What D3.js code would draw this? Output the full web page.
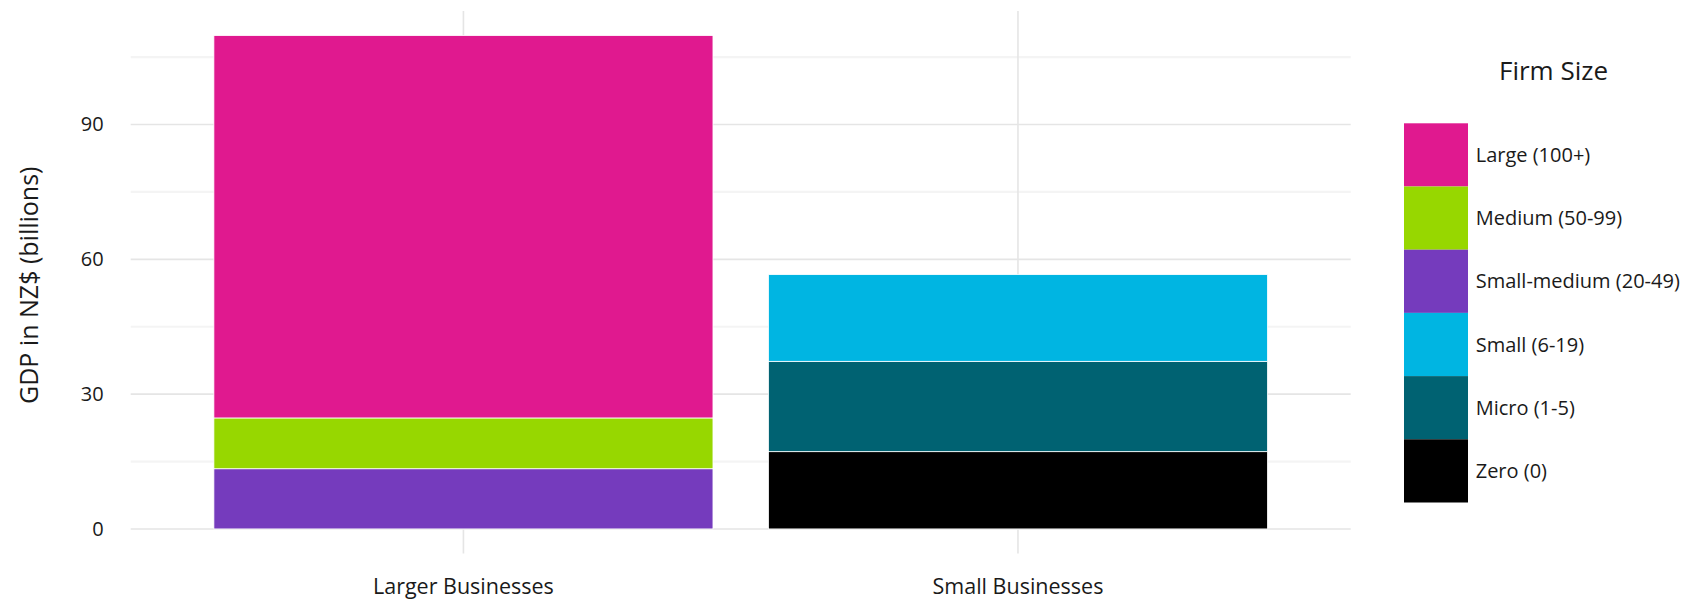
<!DOCTYPE html>
<html>
<head>
<meta charset="utf-8">
<script src="https://cdn.jsdelivr.net/npm/d3@7"></script>
<style>
  html, body { margin: 0; padding: 0; background: #ffffff; }
  svg text { font-family: "Open Sans", "Noto Sans", sans-serif; fill: #1a1a1a; }
</style>
</head>
<body>
<svg id="chart" width="1708" height="600"></svg>
<script>
// ---- data ----
const categories = ["Larger Businesses", "Small Businesses"];
const firmSizes = ["Large (100+)", "Medium (50-99)", "Small-medium (20-49)", "Small (6-19)", "Micro (1-5)", "Zero (0)"];
const firmColors = ["#e0198f", "#97d700", "#753bbd", "#00b5e2", "#006272", "#000000"];
// values per firm size, one per category (NZ$ billions)
const largeValues       = [85.1, 0];
const mediumValues      = [11.3, 0];
const smallMediumValues = [13.4, 0];
const smallValues       = [0, 19.3];
const microValues       = [0, 20.1];
const zeroValues        = [0, 17.2];
const yTicks = [0, 30, 60, 90];
const yMinorTicks = [15, 45, 75, 105];
const yAxisTitle = "GDP in NZ$ (billions)";
const legendTitle = "Firm Size";

// ---- build table ----
const seriesArrays = [largeValues, mediumValues, smallMediumValues, smallValues, microValues, zeroValues];
const rows = categories.map((c, i) => {
  const r = { category: c };
  firmSizes.forEach((f, j) => { r[f] = seriesArrays[j][i]; });
  return r;
});
const stackKeys = firmSizes.slice().reverse(); // bottom first
const stacked = d3.stack().keys(stackKeys)(rows);

const svg = d3.select("#chart");
const panel = { left: 130.7, right: 1350.7, top: 10.9, bottom: 553.6 };

const maxTotal = d3.max(rows, r => d3.sum(firmSizes, f => r[f]));
const y = d3.scaleLinear()
  .domain([-0.05 * maxTotal, 1.05 * maxTotal])
  .range([panel.bottom, panel.top]);
const x = d3.scaleBand()
  .domain(categories)
  .range([panel.left, panel.right])
  .paddingInner(0.1)
  .paddingOuter(0.15);
const color = d3.scaleOrdinal().domain(firmSizes).range(firmColors);

// ---- grid ----
const grid = svg.append("g");
grid.selectAll("line.minor").data(yMinorTicks).join("line")
  .attr("x1", panel.left).attr("x2", panel.right)
  .attr("y1", d => y(d)).attr("y2", d => y(d))
  .attr("stroke", "#f4f4f4").attr("stroke-width", 2.2);
grid.selectAll("line.major").data(yTicks).join("line")
  .attr("x1", panel.left).attr("x2", panel.right)
  .attr("y1", d => y(d)).attr("y2", d => y(d))
  .attr("stroke", "#e5e5e5").attr("stroke-width", 1.6);
grid.selectAll("line.vmajor").data(categories).join("line")
  .attr("x1", d => x(d) + x.bandwidth() / 2).attr("x2", d => x(d) + x.bandwidth() / 2)
  .attr("y1", panel.top).attr("y2", panel.bottom)
  .attr("stroke", "#e5e5e5").attr("stroke-width", 1.6);

// ---- bars ----
const bars = svg.append("g");
stacked.forEach(layer => {
  bars.append("g").selectAll("rect")
    .data(layer.filter(d => d[1] - d[0] > 0))
    .join("rect")
    .attr("x", d => x(d.data.category))
    .attr("width", x.bandwidth())
    .attr("y", d => y(d[1]))
    .attr("height", d => y(d[0]) - y(d[1]))
    .attr("fill", color(layer.key))
    .attr("stroke", "#ffffff")
    .attr("stroke-width", 0.8);
});

// ---- axes ----
const yAxis = d3.axisLeft(y).tickValues(yTicks).tickSize(0).tickPadding(27);
const gy = svg.append("g").attr("transform", `translate(${panel.left},0)`).call(yAxis);
gy.select(".domain").remove();
gy.selectAll("text").attr("font-size", 20).attr("fill", "#1a1a1a")
  .style("font-family", "'Open Sans', sans-serif");

const xAxis = d3.axisBottom(x).tickSize(0).tickPadding(30);
const gx = svg.append("g").attr("transform", `translate(0,${y(0) + 20})`).call(xAxis);
gx.select(".domain").remove();
gx.selectAll("text").attr("font-size", 21.5).attr("fill", "#1a1a1a")
  .style("font-family", "'Open Sans', sans-serif");

svg.append("text")
  .attr("transform", `translate(38, ${(panel.top + panel.bottom) / 2 + 3}) rotate(-90)`)
  .attr("text-anchor", "middle")
  .attr("font-size", 25)
  .text(yAxisTitle);

// ---- legend ----
const legend = svg.append("g");
const keyX = 1404, keyY = 123.3, keyW = 64, keyH = 63.2;
legend.append("text")
  .attr("x", 1499).attr("y", 80)
  .attr("font-size", 26)
  .text(legendTitle);
const items = legend.selectAll("g.item").data(firmSizes).join("g")
  .attr("transform", (d, i) => `translate(${keyX},${keyY + i * keyH})`);
items.append("rect")
  .attr("width", keyW).attr("height", keyH)
  .attr("fill", d => color(d));
items.append("text")
  .attr("x", 1475.7 - keyX).attr("y", keyH / 2)
  .attr("dy", "0.36em")
  .attr("font-size", 20)
  .text(d => d);
</script>
</body>
</html>
